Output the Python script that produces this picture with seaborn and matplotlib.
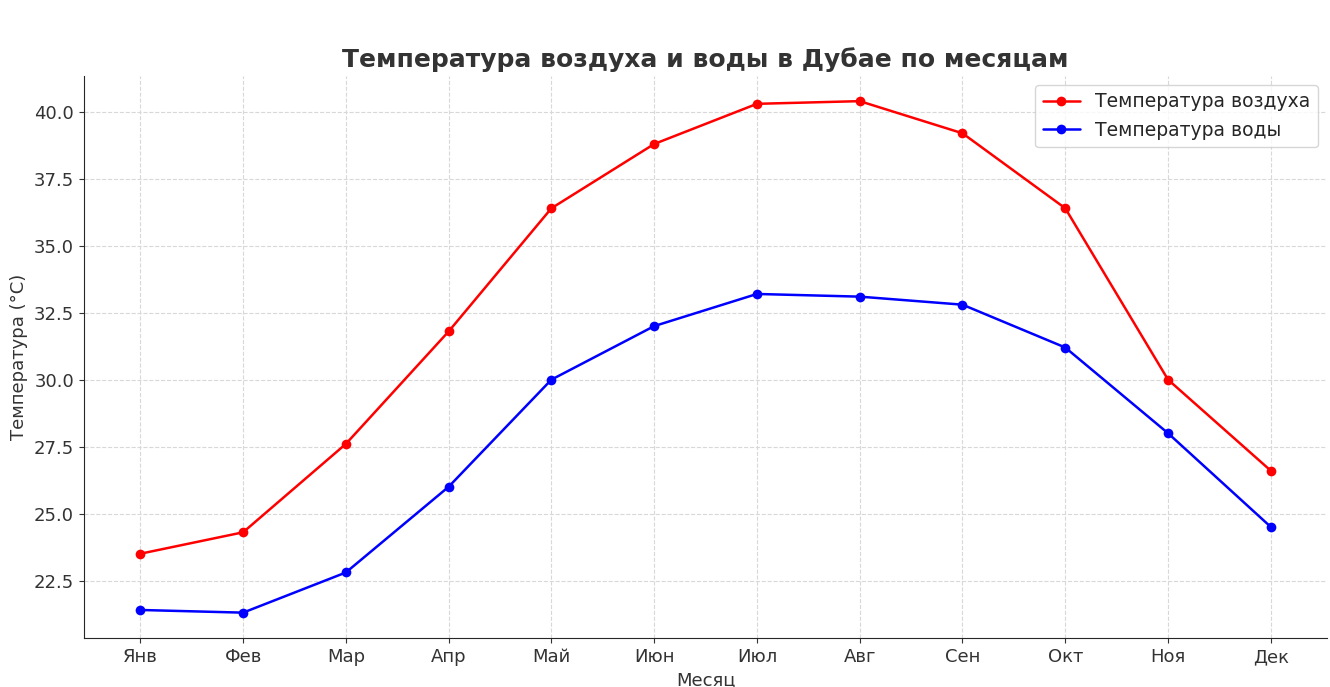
import matplotlib
matplotlib.use("Agg")
import matplotlib.pyplot as plt
import seaborn as sns
import pandas as pd

months = ["Янв","Фев","Мар","Апр","Май","Июн","Июл","Авг","Сен","Окт","Ноя","Дек"]
air = [23.5,24.3,27.6,31.8,36.4,38.8,40.3,40.4,39.2,36.4,30.0,26.6]
water = [21.4,21.3,22.8,26.0,30.0,32.0,33.2,33.1,32.8,31.2,28.0,24.5]

sns.set_style("ticks")
plt.rcParams['font.family'] = ['DejaVu Sans']
fig, ax = plt.subplots(figsize=(13.3, 6.87), dpi=100)
df = pd.DataFrame({"m": months, "air": air, "water": water})
sns.lineplot(data=df, x="m", y="air", ax=ax, color="red", marker="o", markersize=7,
             markeredgewidth=0, linewidth=1.8, label="Температура воздуха", sort=False)
sns.lineplot(data=df, x="m", y="water", ax=ax, color="blue", marker="o", markersize=7,
             markeredgewidth=0, linewidth=1.8, label="Температура воды", sort=False)
ax.set_title("Температура воздуха и воды в Дубае по месяцам", fontsize=18, fontweight="bold", color="#333333")
ax.set_xlabel("Месяц", fontsize=13, color="#333333")
ax.set_ylabel("Температура (°C)", fontsize=13, color="#333333")
ax.tick_params(labelsize=13, colors="#333333")
ax.grid(True, linestyle="--", color="#d8d8d8", linewidth=0.8)
sns.despine(ax=ax)
ax.legend(fontsize=13.5, loc="upper right")
fig.subplots_adjust(left=0.063, right=0.998, bottom=0.071, top=0.89)
fig.savefig("out.png")
